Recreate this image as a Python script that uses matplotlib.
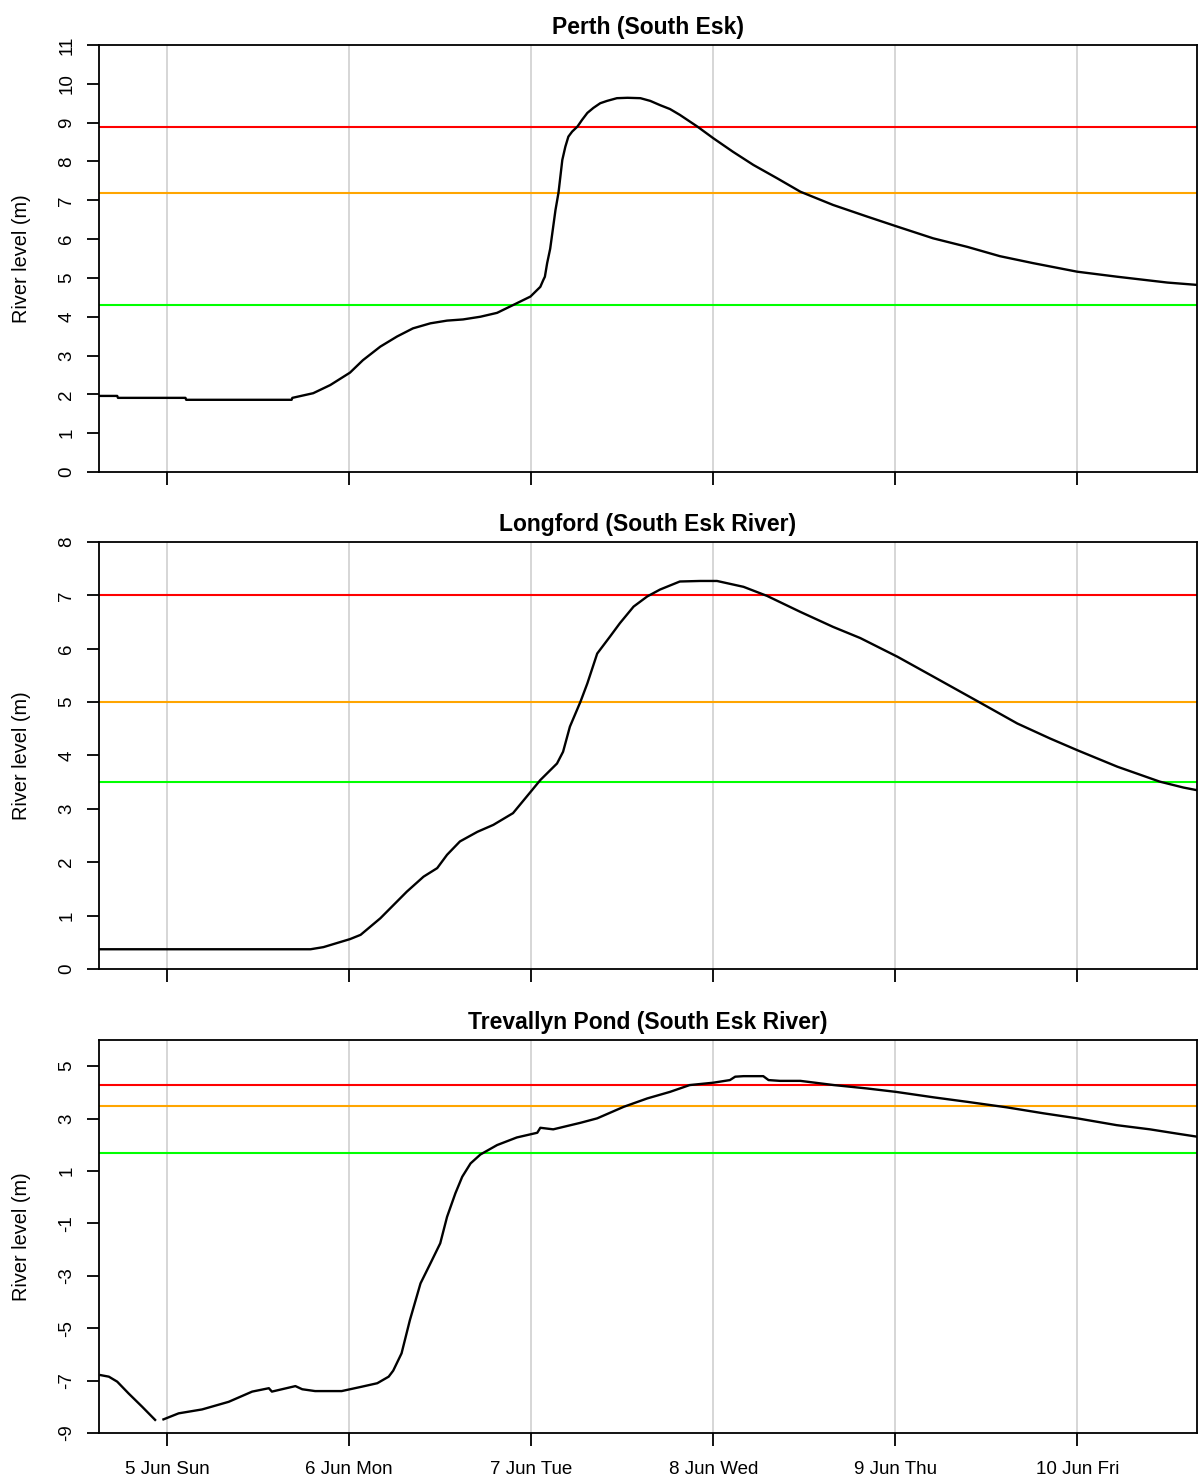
import numpy as np
import matplotlib
matplotlib.use("Agg")
from matplotlib import pyplot as plt

plt.rcParams['font.family'] = ['Liberation Sans', 'DejaVu Sans']
plt.rcParams['axes.unicode_minus'] = False

# hours since 5 Jun 00:00
day_ticks = [0, 24, 48, 72, 96, 120]
day_labels = ['5 Jun Sun', '6 Jun Mon', '7 Jun Tue', '8 Jun Wed', '9 Jun Thu', '10 Jun Fri']

perth_h = [-9, -6.6, -6.5, 2.4, 2.5, 16.4, 16.5, 19.25, 21.5, 24.1, 25.8, 28.1, 30.3, 32.4,
           34.7, 36.9, 39.0, 41.3, 43.5, 45.6, 47.9, 49.2, 49.6, 49.8, 50.1, 50.5, 51.2,
           51.6, 52.1, 52.5, 52.9, 53.4, 54.1, 54.7, 55.4, 56.2, 57.1, 58.0, 59.3, 60.7,
           62.4, 63.7, 65.0, 66.3, 67.6, 69.9, 72.0, 74.6,
           77.3, 80.4, 83.5, 87.8, 92.3, 96.3, 101.0, 105.5, 109.8, 114.2, 120.0, 125.3,
           131.9, 135.8]
perth_v = [1.96, 1.96, 1.91, 1.91, 1.86, 1.86, 1.91, 2.03, 2.24, 2.56, 2.88, 3.23, 3.49, 3.70,
           3.83, 3.90, 3.93, 4.00, 4.10, 4.30, 4.52, 4.77, 4.95, 5.03, 5.38, 5.75, 6.75,
           7.20, 8.04, 8.38, 8.64, 8.77, 8.90, 9.07, 9.25, 9.38, 9.50, 9.56, 9.63, 9.64,
           9.63, 9.56, 9.45, 9.35, 9.20, 8.90, 8.60, 8.25,
           7.91, 7.57, 7.22, 6.88, 6.58, 6.32, 6.02, 5.80, 5.56, 5.38, 5.16, 5.03,
           4.88, 4.82]

longford_h = [-9, 18.9, 20.6, 24.1, 25.5, 28.1, 31.6, 33.8, 35.6, 36.9, 38.6, 40.9, 43.0,
              45.6, 48.1, 49.2, 51.4, 52.2, 53.1, 54.5, 55.4, 56.7, 58.4, 59.7, 61.5, 63.3,
              65.0, 67.6, 70.3, 72.5, 76.0, 79.1, 83.5, 87.8, 91.4, 96.3, 101.0, 107.2,
              112.1, 116.4, 120.0, 125.3, 130.9, 134.0, 135.8]
longford_v = [0.37, 0.37, 0.41, 0.56, 0.64, 0.95, 1.45, 1.73, 1.89, 2.14, 2.39, 2.57, 2.70,
              2.92, 3.35, 3.54, 3.85, 4.07, 4.54, 5.01, 5.35, 5.91, 6.23, 6.48, 6.79, 6.98,
              7.11, 7.26, 7.27, 7.27, 7.16, 6.99, 6.69, 6.41, 6.20, 5.85, 5.48, 4.99,
              4.60, 4.32, 4.10, 3.79, 3.51, 3.40, 3.35]

trev_h = [-8.8, -7.7, -6.6, -5.1, -3.3, -1.6, -1.0, -0.5, 1.5, 4.6, 8.1, 11.2, 13.4, 13.8,
          16.9, 17.8, 19.5, 23.0, 25.7, 27.7, 29.2, 29.8, 30.9, 32.0, 33.4, 34.7, 36.0,
          36.9, 38.0, 38.9, 40.0, 41.3, 43.5, 46.1, 48.8, 49.2, 50.9, 54.5, 56.7, 60.2,
          63.3, 66.3, 68.9, 72.0, 74.2, 74.9, 76.0, 78.6, 79.3, 80.8, 83.5, 87.9, 92.3,
          96.1, 101.1, 105.5, 110.7, 115.6, 120.0, 125.2, 129.6, 133.1, 135.8]
trev_v = [-6.79, -6.85, -7.04, -7.49, -8.00, -8.50, np.nan, -8.48, -8.25, -8.10, -7.81, -7.42,
          -7.29, -7.42, -7.21, -7.33, -7.40, -7.40, -7.23, -7.10, -6.85, -6.62, -5.96, -4.69,
          -3.29, -2.53, -1.76, -0.75, 0.15, 0.78, 1.29, 1.63, 1.99, 2.28, 2.46, 2.65, 2.59,
          2.84, 3.01, 3.45, 3.77, 4.02, 4.28, 4.37, 4.47, 4.60, 4.62, 4.62, 4.47, 4.44,
          4.44, 4.28, 4.15, 4.02, 3.81, 3.64, 3.43, 3.20, 3.01, 2.75, 2.59, 2.43, 2.31]

titles = ['Perth (South Esk)', 'Longford (South Esk River)', 'Trevallyn Pond (South Esk River)']
series_h = [perth_h, longford_h, trev_h]
series_v = [perth_v, longford_v, trev_v]
# flood classes: minor, moderate, major
minor = [4.3, 3.5, 1.7]
moderate = [7.2, 5.0, 3.5]
major = [8.9, 7.0, 4.3]
ylims = [(0, 11), (0, 8), (-9, 6)]
yticks = [range(0, 12), range(0, 9), range(-9, 6, 2)]

W, H = 1200, 1483
fig = plt.figure(figsize=(W / 100, H / 100), dpi=100)
boxes = [(45, 472), (542, 969), (1040, 1433)]

for i in range(3):
    top, bot = boxes[i]
    ax = fig.add_axes([99 / W, 1 - bot / H, (1197 - 99) / W, (bot - top) / H])
    for d in day_ticks:
        ax.axvline(d, color='#d3d3d3', lw=1.3, zorder=0)
    ax.axhline(major[i], color='#ff0000', lw=1.5)
    ax.axhline(moderate[i], color='#ffa500', lw=1.5)
    ax.axhline(minor[i], color='#00ff00', lw=1.5)
    ax.plot(series_h[i], series_v[i], color='black', lw=1.7)
    ax.set_xlim(-9, 135.8)
    ax.set_ylim(*ylims[i])
    ax.set_yticks(list(yticks[i]))
    ax.set_xticks(day_ticks)
    if i == 2:
        ax.set_xticklabels(day_labels)
    else:
        ax.set_xticklabels([])
    ax.tick_params(axis='both', direction='out', length=9, width=1.3, labelsize=13.5, color='black')
    ax.tick_params(axis='y', labelrotation=90, pad=8)
    ax.tick_params(axis='x', pad=11)
    for lab in ax.get_yticklabels():
        lab.set_va('center')
    for s in ax.spines.values():
        s.set_linewidth(1.3)
    ax.set_ylabel('River level (m)', fontsize=14.3, labelpad=20)
    ax.set_title(titles[i], fontsize=16.5, fontweight='bold', pad=8)

fig.savefig('out.png', dpi=100)
